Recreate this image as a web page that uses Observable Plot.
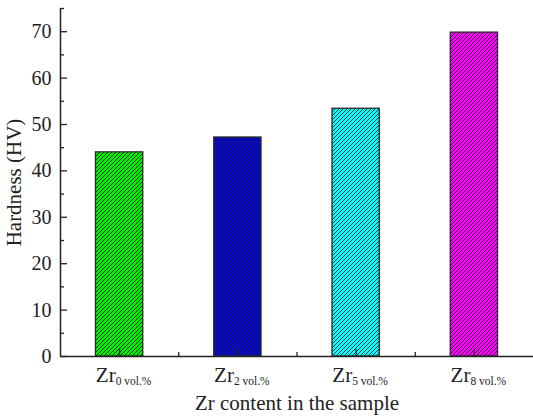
<!DOCTYPE html>
<html>
<head>
<meta charset="utf-8">
<script src="https://cdn.jsdelivr.net/npm/d3@7"></script>
<script src="https://cdn.jsdelivr.net/npm/@observablehq/plot@0.6"></script>
<style>
  html, body { margin: 0; padding: 0; background: #fff; }
</style>
</head>
<body>
<div id="chart"></div>
<script>
// ---- data ----
const labelPrefix = "Zr";
const subscripts = ["0 vol.%", "2 vol.%", "5 vol.%", "8 vol.%"];
const hardness = [44.0, 47.2, 53.4, 69.8];
const barColors = ["#00f000", "#0a0ad8", "#00ffff", "#ff00ff"];
const yMajorTicks = [0, 10, 20, 30, 40, 50, 60, 70];
const yMinorTicks = [5, 15, 25, 35, 45, 55, 65, 75];
const xMinorTicks = [0.5, 1.5, 2.5];
const xTitle = "Zr content in the sample";
const yTitle = "Hardness (HV)";

const rows = subscripts.map((s, i) => ({i, key: s, v: hardness[i]}));
const patternIds = barColors.map((c, i) => `hatch${i}`);

const W = 533, H = 417, ML = 60, MR = 0, MT = 8, MB = 61;
const frameW = W - ML - MR, frameH = H - MT - MB;
const serif = "'Liberation Serif', 'Times New Roman', serif";

const svg = Plot.plot({
  width: W, height: H,
  marginLeft: ML, marginRight: MR, marginTop: MT, marginBottom: MB,
  style: {fontFamily: serif, color: "#222", background: "#fff"},
  x: {domain: [-0.5, subscripts.length - 0.5], axis: null},
  y: {domain: [0, 75], axis: null},
  color: {type: "ordinal", domain: subscripts, range: patternIds.map(id => `url(#${id})`)},
  marks: [
    Plot.rectY(rows, {x1: d => d.i - 0.2, x2: d => d.i + 0.2, y: "v", fill: "key", stroke: "#2a2a2a", strokeWidth: 1.3}),
    Plot.ruleX([-0.5], {stroke: "#222", strokeWidth: 1.5}),
    Plot.ruleY([0], {stroke: "#222", strokeWidth: 1.5}),
    Plot.tickY(yMajorTicks, {y: d => d, insetRight: frameW - 7, stroke: "#222", strokeWidth: 1.3}),
    Plot.tickY(yMinorTicks, {y: d => d, insetRight: frameW - 4, stroke: "#222", strokeWidth: 1.3}),
    Plot.tickX(rows, {x: "i", insetTop: frameH - 7, stroke: "#222", strokeWidth: 1.3}),
    Plot.tickX(xMinorTicks, {x: d => d, insetTop: frameH - 4, stroke: "#222", strokeWidth: 1.3}),
    Plot.axisY({ticks: yMajorTicks, tickSize: 0, tickPadding: 9, fontSize: 20, fontFamily: serif, label: null}),
    Plot.axisX({ticks: rows.map(d => d.i), tickSize: 0, tickPadding: 11, dx: 4, fontSize: 21, fontFamily: serif, label: null,
      tickFormat: i => subscripts[i]}),
    Plot.text([yTitle], {frameAnchor: "left", textAnchor: "middle", lineAnchor: "bottom", dx: -40, rotate: -90,
      fontSize: 21, fontFamily: serif, fill: "#222"}),
    Plot.text([xTitle], {frameAnchor: "bottom", textAnchor: "middle", lineAnchor: "bottom", dy: 53,
      fontSize: 21, fontFamily: serif, fill: "#222"})
  ]
});

// hatch patterns
const defs = d3.select(svg).insert("defs", ":first-child");
barColors.forEach((c, i) => {
  const p = defs.append("pattern")
    .attr("id", patternIds[i])
    .attr("patternUnits", "userSpaceOnUse")
    .attr("width", 4).attr("height", 4);
  p.append("rect").attr("width", 4).attr("height", 4).attr("fill", c);
  p.append("path")
    .attr("d", "M-1,1 L1,-1 M0,4 L4,0 M3,5 L5,3")
    .attr("stroke", "#111").attr("stroke-width", 1).attr("stroke-opacity", 0.85);
});

// subscript tick labels: "Zr" + subscript
d3.select(svg).selectAll('g[aria-label="x-axis tick label"] text').each(function() {
  const sub = this.textContent;
  const t = d3.select(this);
  t.text(null);
  t.append("tspan").text(labelPrefix);
  t.append("tspan").attr("font-size", 11.5).attr("dy", 2.5).text(sub);
});

document.getElementById("chart").appendChild(svg);
</script>
</body>
</html>
